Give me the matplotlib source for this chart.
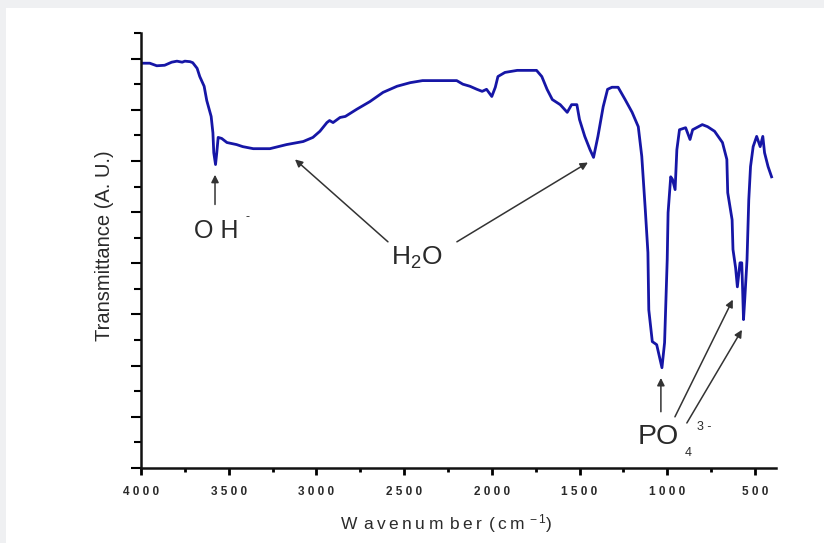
import matplotlib
matplotlib.use("Agg")
import matplotlib.pyplot as plt
from matplotlib.patches import Rectangle
from matplotlib.ticker import MultipleLocator, FuncFormatter, NullFormatter

plt.rcParams['font.family'] = ['Liberation Sans', 'DejaVu Sans']
plt.rcParams['mathtext.fontset'] = 'custom'
plt.rcParams['mathtext.rm'] = 'Liberation Sans'
plt.rcParams['mathtext.it'] = 'Liberation Sans'

# FTIR spectrum
wavenumber = [4000, 3950, 3910, 3865, 3825, 3795, 3765, 3750, 3720, 3705,
              3680, 3665, 3640, 3625, 3600, 3590, 3585, 3575, 3568, 3560,
              3540, 3510, 3455, 3420, 3360, 3265, 3170, 3075, 3020, 2980,
              2940, 2925, 2905, 2865, 2835, 2770, 2695, 2620, 2540, 2465,
              2395, 2280, 2200, 2165, 2125, 2085, 2055, 2030, 2000, 1980,
              1965, 1925, 1855, 1745, 1715, 1685, 1655, 1610, 1570, 1545,
              1515, 1500, 1470, 1440, 1420, 1395, 1365, 1340, 1315, 1280,
              1240, 1200, 1165, 1145, 1125, 1110, 1105, 1085, 1060, 1030,
              1015, 1000, 995, 980, 970, 955, 945, 930, 895, 870,
              855, 800, 770, 730, 685, 660, 655, 630, 625, 610,
              600, 585, 575, 570, 565, 558, 545, 535, 525, 510,
              490, 470, 455, 445, 425, 405]
transmittance = [7.91, 7.91, 7.86, 7.87, 7.93, 7.95, 7.93, 7.95, 7.94, 7.92,
                 7.81, 7.65, 7.46, 7.18, 6.87, 6.55, 6.16, 5.93, 6.16, 6.46,
                 6.44, 6.36, 6.32, 6.28, 6.24, 6.24, 6.32, 6.38, 6.46, 6.58,
                 6.75, 6.79, 6.75, 6.85, 6.87, 7.01, 7.16, 7.34, 7.46, 7.53,
                 7.57, 7.57, 7.57, 7.50, 7.46, 7.40, 7.36, 7.40, 7.26, 7.44,
                 7.65, 7.73, 7.77, 7.77, 7.65, 7.40, 7.20, 7.10, 6.95, 7.10,
                 7.10, 6.81, 6.48, 6.22, 6.07, 6.48, 7.06, 7.40, 7.44, 7.44,
                 7.20, 6.95, 6.67, 6.09, 5.05, 4.21, 3.09, 2.47, 2.41, 1.96,
                 2.45, 4.07, 4.99, 5.69, 5.64, 5.44, 6.22, 6.61, 6.65, 6.42,
                 6.61, 6.71, 6.67, 6.58, 6.36, 6.03, 5.38, 4.85, 4.27, 3.91,
                 3.54, 4.01, 4.01, 3.48, 2.90, 3.29, 4.07, 5.24, 5.89, 6.28,
                 6.48, 6.28, 6.48, 6.16, 5.89, 5.69]

text_color = '#2a2a2a'
arrow_color = '#333333'

fig = plt.figure(figsize=(8.24, 5.43), dpi=100, facecolor='white')
# light grey page margin at top and left
fig.patches.append(Rectangle((0, 0.985), 1, 0.015, transform=fig.transFigure,
                             facecolor='#eff0f2', edgecolor='none', zorder=0))
fig.patches.append(Rectangle((0, 0), 0.0073, 1, transform=fig.transFigure,
                             facecolor='#eff0f2', edgecolor='none', zorder=0))

ax = fig.add_axes([0.1711, 0.1381, 0.7706, 0.8011])
ax.plot(wavenumber, transmittance, color='#1616a6', linewidth=2.0)

ax.set_xlim(4000, 380)
ax.set_ylim(0, 8.5)
for side in ('top', 'right'):
    ax.spines[side].set_visible(False)
for side in ('left', 'bottom'):
    ax.spines[side].set_linewidth(1.8)
    ax.spines[side].set_color('#111111')

ax.xaxis.set_major_locator(MultipleLocator(500))
ax.xaxis.set_minor_locator(MultipleLocator(250))
ax.yaxis.set_major_locator(MultipleLocator(1))
ax.yaxis.set_minor_locator(MultipleLocator(0.5))
ax.xaxis.set_major_formatter(FuncFormatter(lambda v, p: ' '.join(str(int(v)))))
ax.yaxis.set_major_formatter(NullFormatter())
ax.tick_params(axis='x', which='major', length=5, width=2, pad=8,
               labelsize=8.5, labelcolor=text_color)
ax.tick_params(axis='x', which='minor', length=3, width=2)
ax.tick_params(axis='y', which='major', length=7, width=1.5)
ax.tick_params(axis='y', which='minor', length=5, width=1.5)
for lab in ax.get_xticklabels():
    lab.set_fontweight('bold')

ax.set_xlabel('W\u2009\u2009a\u2009v\u2009e\u2009n\u2009u\u2009m\u2009\u2009b\u2009e\u2009r\u2009\u2009(\u2009c\u2009m$^{\u2009-1}$)',
              fontsize=12.5, color=text_color, labelpad=10)
ax.xaxis.label.set_x(0.48)
ax.set_ylabel('Transmittance (A. U.)', fontsize=14.5, color=text_color, labelpad=9)
ax.yaxis.label.set_y(0.51)

arrow = dict(arrowstyle='-|>', color=arrow_color, lw=1.1, mutation_scale=11,
             shrinkA=0, shrinkB=0)

# OH- band
ax.annotate('', xy=(3578, 5.73), xytext=(3578, 5.15), arrowprops=arrow)
ax.text(3570, 4.64, 'O H', fontsize=18, color=text_color, ha='center', va='center')
ax.text(3395, 4.9, '-', fontsize=9, color=text_color, ha='center', va='center')

# H2O bands
ax.text(2427, 4.1, 'H$_2$O', fontsize=19, color=text_color, ha='center', va='center')
ax.annotate('', xy=(3122, 6.03), xytext=(2592, 4.42), arrowprops=arrow)
ax.annotate('', xy=(1452, 5.97), xytext=(2199, 4.42), arrowprops=arrow)

# PO4 3- bands
ax.annotate('', xy=(1036, 1.76), xytext=(1036, 1.10), arrowprops=arrow)
ax.annotate('', xy=(626, 3.29), xytext=(956, 1.00), arrowprops=arrow)
ax.annotate('', xy=(574, 2.70), xytext=(888, 0.88), arrowprops=arrow)
ax.text(1050, 0.61, 'PO', fontsize=20.5, color=text_color, ha='center', va='center')
ax.text(880, 0.29, '4', fontsize=9, color=text_color, ha='center', va='center')
ax.text(791, 0.80, '3 -', fontsize=9, color=text_color, ha='center', va='center')

fig.savefig('out.png', dpi=100, facecolor='white')
